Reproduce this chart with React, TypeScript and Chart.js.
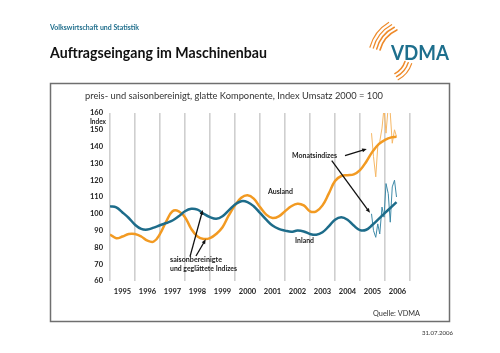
import React, { useEffect, useRef } from 'react';
import { Chart, registerables } from 'chart.js';

Chart.register(...registerables);

const FONT = 'Lato, "Open Sans", "DejaVu Sans", sans-serif';

// Quarterly points of the smoothed series (decimal years)
const SMOOTH_X = [
  1995, 1995.25, 1995.5, 1995.75, 1996, 1996.25, 1996.5, 1996.75,
  1997, 1997.25, 1997.5, 1997.75, 1998, 1998.25, 1998.5, 1998.75,
  1999, 1999.25, 1999.5, 1999.75, 2000, 2000.25, 2000.5, 2000.75,
  2001, 2001.25, 2001.5, 2001.75, 2002, 2002.25, 2002.5, 2002.75,
  2003, 2003.25, 2003.5, 2003.75, 2004, 2004.25, 2004.5, 2004.75,
  2005, 2005.25, 2005.5, 2005.75, 2006, 2006.25, 2006.46,
];

const INLAND = [
  104.5, 103.8, 100.8, 97.5, 93.5, 91, 90.6, 91.8,
  93.2, 94.5, 96, 98.5, 101.5, 103, 102.5, 100,
  98, 97, 98.5, 102, 105.5, 107.5, 107, 104.5,
  100.5, 96.5, 93, 91, 90, 89.3, 90, 89.5,
  88, 87.5, 89, 92.5, 96.5, 98, 96.5, 93,
  90.3, 90.5, 93.5, 97, 100.5, 104, 107,
];

const AUSLAND = [
  87.7, 85.5, 86.5, 88, 88, 86.5, 84, 83.5,
  88, 95.5, 101.5, 101.5, 98, 91, 86.5, 85,
  85.5, 88, 92, 99, 105, 109.5, 111, 109,
  104, 99.5, 97.5, 98.5, 101.5, 104.5, 106, 105,
  101.5, 101.5, 105, 112, 119.5, 122.5, 123, 123.5,
  126, 131, 137, 141.5, 144, 145.5, 145.8,
];

// Monthly indices, June 2005 - June 2006
const MONTH_X = [
  2005.46, 2005.54, 2005.63, 2005.71, 2005.79, 2005.88, 2005.96,
  2006.04, 2006.13, 2006.21, 2006.29, 2006.38, 2006.46,
];
const AUSLAND_MONTH = [148, 134, 122, 140, 143, 151, 163, 148, 164, 160, 142, 150, 146];
const INLAND_MONTH = [100, 90, 86, 94, 88, 104, 98, 118, 112, 95, 116, 120, 110];

const X_MIN = 1995;
const X_MAX = 2007;
const Y_MIN = 60;
const Y_MAX = 160;

const ORANGE = '#F29A22';
const TEAL = '#1D6C8A';
const ORANGE_LIGHT = '#F6B866';
const TEAL_LIGHT = '#3E8AA8';

const toXY = (xs: number[], ys: number[]) => xs.map((x, i) => ({ x, y: ys[i] }));

function arrow(ctx: CanvasRenderingContext2D, x1: number, y1: number, x2: number, y2: number) {
  const a = Math.atan2(y2 - y1, x2 - x1);
  const h = 5;
  ctx.beginPath();
  ctx.moveTo(x1, y1);
  ctx.lineTo(x2 - Math.cos(a) * h * 0.8, y2 - Math.sin(a) * h * 0.8);
  ctx.stroke();
  ctx.beginPath();
  ctx.moveTo(x2, y2);
  ctx.lineTo(x2 - h * Math.cos(a - 0.4), y2 - h * Math.sin(a - 0.4));
  ctx.lineTo(x2 - h * Math.cos(a + 0.4), y2 - h * Math.sin(a + 0.4));
  ctx.closePath();
  ctx.fill();
}

const decor = {
  id: 'decor',
  beforeDraw(chart: any) {
    const ctx: CanvasRenderingContext2D = chart.ctx;
    ctx.save();
    ctx.fillStyle = '#ffffff';
    ctx.fillRect(0, 0, chart.width, chart.height);

    // header
    ctx.textBaseline = 'middle';
    ctx.textAlign = 'left';
    ctx.fillStyle = '#1F6E8C';
    ctx.font = `bold 7.5px ${FONT}`;
    ctx.fillText('Volkswirtschaft und Statistik', 50, 28, 89);
    ctx.fillStyle = '#111111';
    ctx.font = `bold 15px ${FONT}`;
    ctx.fillText('Auftragseingang im Maschinenbau', 50, 53, 217);

    // logo arcs
    ctx.strokeStyle = '#EE8A2A';
    ctx.lineCap = 'round';
    const up = [31, 34.5, 38, 41.5];
    up.forEach((r, i) => {
      ctx.lineWidth = 1.6 - i * 0.15;
      ctx.beginPath();
      ctx.arc(410, 58, r, (195 * Math.PI) / 180, ((245 - i * 2) * Math.PI) / 180);
      ctx.stroke();
    });
    const low = [21, 24.5, 28];
    low.forEach((r, i) => {
      ctx.lineWidth = 1.5 - i * 0.15;
      ctx.beginPath();
      ctx.arc(385, 55, r, (18 * Math.PI) / 180, (62 * Math.PI) / 180);
      ctx.stroke();
    });
    ctx.fillStyle = '#1E6F8D';
    ctx.font = `bold 21px ${FONT}`;
    ctx.fillText('VDMA', 391, 53, 58);

    // frame
    ctx.strokeStyle = '#6f6f6f';
    ctx.lineWidth = 1.5;
    ctx.strokeRect(50.5, 83.5, 399, 238);

    // subtitle
    ctx.fillStyle = '#333333';
    ctx.font = `9.5px ${FONT}`;
    ctx.fillText('preis- und saisonbereinigt, glatte Komponente, Index Umsatz 2000 = 100', 85, 96, 298);

    // footer
    ctx.font = `7.5px ${FONT}`;
    ctx.fillText('Quelle: VDMA', 373, 314, 47);
    ctx.font = `6.5px ${FONT}`;
    ctx.fillText('31.07.2006', 422, 333, 31);
    ctx.restore();
  },
  afterDraw(chart: any) {
    const ctx: CanvasRenderingContext2D = chart.ctx;
    const xs = chart.scales.x;
    const ys = chart.scales.y;
    const px = (v: number) => xs.getPixelForValue(v);
    const py = (v: number) => ys.getPixelForValue(v);
    ctx.save();
    ctx.fillStyle = '#222222';
    ctx.textBaseline = 'middle';
    ctx.textAlign = 'right';
    ctx.font = `bold 7px ${FONT}`;
    ctx.fillText('Index', ys.right - 4, (py(160) + py(150)) / 2 + 0.5, 16);

    ctx.textAlign = 'left';
    ctx.font = `bold 7.5px ${FONT}`;
    ctx.fillText('Monatsindizes', px(2002.28), py(134.6), 45);
    ctx.fillText('Ausland', px(2001.32), py(113.2), 25);
    ctx.fillText('Inland', px(2002.4), py(84), 19);
    ctx.fillText('saisonbereinigte', px(1997.4), py(72.5), 52);
    ctx.fillText('und geglättete Indizes', px(1997.4), py(67.1), 67);

    ctx.strokeStyle = '#111111';
    ctx.fillStyle = '#111111';
    ctx.lineWidth = 1.3;
    arrow(ctx, px(2004.4), py(134.6), px(2005.27), py(138.6));
    arrow(ctx, px(2003.87), py(131.6), px(2005.4), py(100.6));
    arrow(ctx, px(1998.2), py(74.5), px(1998.71), py(102.3));
    arrow(ctx, px(1998.44), py(74.9), px(1998.83), py(84.8));
    ctx.restore();
  },
};

export default function App() {
  const ref = useRef<HTMLCanvasElement | null>(null);
  useEffect(() => {
    if (!ref.current) return;
    const chart = new Chart(ref.current, {
      type: 'line',
      data: {
        datasets: [
          {
            label: 'Inland',
            data: toXY(SMOOTH_X, INLAND),
            borderColor: TEAL,
            borderWidth: 2.5,
            pointRadius: 0,
            tension: 0.4,
            fill: false,
          },
          {
            label: 'Ausland',
            data: toXY(SMOOTH_X, AUSLAND),
            borderColor: ORANGE,
            borderWidth: 2.5,
            pointRadius: 0,
            tension: 0.4,
            fill: false,
          },
          {
            label: 'Inland Monatsindizes',
            data: toXY(MONTH_X, INLAND_MONTH),
            borderColor: TEAL_LIGHT,
            borderWidth: 1,
            pointRadius: 0,
            tension: 0,
            fill: false,
          },
          {
            label: 'Ausland Monatsindizes',
            data: toXY(MONTH_X, AUSLAND_MONTH),
            borderColor: ORANGE_LIGHT,
            borderWidth: 1,
            pointRadius: 0,
            tension: 0,
            fill: false,
          },
        ],
      },
      options: {
        animation: false,
        responsive: false,
        devicePixelRatio: 1,
        layout: { padding: { left: 80, top: 113, right: 90, bottom: 52 } },
        plugins: { legend: { display: false }, tooltip: { enabled: false }, title: { display: false } },
        scales: {
          x: {
            type: 'linear',
            min: X_MIN,
            max: X_MAX,
            border: { display: false },
            grid: {
              drawTicks: false,
              lineWidth: 1.6,
              color: (c: any) =>
                c.tick && Number.isInteger(c.tick.value) ? '#cfcfcf' : 'rgba(0,0,0,0)',
            },
            ticks: {
              stepSize: 0.5,
              autoSkip: false,
              maxRotation: 0,
              padding: 6,
              color: '#222222',
              font: { family: FONT, size: 7.5, weight: 'bold' },
              callback: (v: any) => (Math.abs((Number(v) % 1) - 0.5) < 1e-6 ? String(Math.floor(Number(v))) : ''),
            },
            afterFit: (s: any) => {
              s.height = 20;
            },
          },
          y: {
            min: Y_MIN,
            max: Y_MAX,
            border: { display: false },
            grid: { display: false, drawTicks: false },
            ticks: {
              stepSize: 10,
              padding: 7,
              color: '#222222',
              font: { family: FONT, size: 7.5, weight: 'bold' },
            },
            afterFit: (s: any) => {
              s.width = 30;
            },
          },
        },
      },
      plugins: [decor],
    } as any);
    return () => chart.destroy();
  }, []);
  return (
    <div style={{ position: 'absolute', left: 0, top: 0, width: 500, height: 353, background: '#fff' }}>
      <canvas ref={ref} width={500} height={353} style={{ display: 'block', width: 500, height: 353 }} />
    </div>
  );
}
